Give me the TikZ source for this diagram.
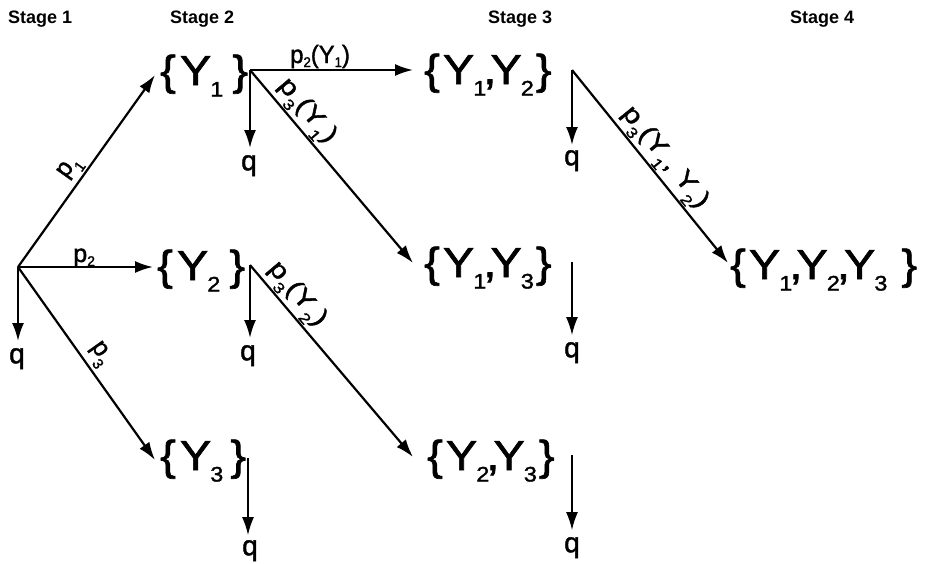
\documentclass[tikz,border=0pt]{standalone}
\usepackage{fontspec}
\setmainfont{Liberation Sans}
\newfontfamily\setfam[FakeStretch=1.12,FakeBold=1.5]{Liberation Sans}
\newfontfamily\lblfam[FakeBold=1.5]{Liberation Sans}
\usetikzlibrary{arrows.meta}
\newcommand\setf{\setfam\fontsize{42pt}{42pt}\selectfont}
\newcommand\ssub[1]{\hspace{-1pt}\raisebox{-11.5pt}{\fontsize{21pt}{21pt}\selectfont #1}}
\newcommand\scm{\hspace{-3pt},\hspace{-6pt}}
\newcommand\lsub[1]{\raisebox{-4pt}{\fontsize{14pt}{14pt}\selectfont #1}}
\newcommand\dsub[1]{\raisebox{-9pt}{\fontsize{15pt}{15pt}\selectfont #1}}
\begin{document}
\begin{tikzpicture}[x=1pt,y=-1pt,
  setnode/.style={anchor=base west, inner sep=0pt, font=\setf},
  qnode/.style={anchor=north, inner sep=0pt, font=\lblfam\fontsize{28pt}{28pt}\selectfont},
  stagenode/.style={anchor=base west, inner sep=0pt, font=\bfseries\fontsize{18pt}{18pt}\selectfont},
  lbl/.style={anchor=base, inner sep=0pt, sloped, font=\lblfam\fontsize{25pt}{25pt}\selectfont},
  arr/.style={line width=2.2pt, -{Latex[length=18pt,width=12pt]}},
  thinarr/.style={line width=1.4pt, -{Latex[length=18pt,width=12pt]}},
]
\useasboundingbox (0,0) rectangle (929,563);

\node[stagenode] (s1) at (8,23) {Stage 1};
\node[stagenode] (s2) at (170,23) {Stage 2};
\node[stagenode] (s3) at (488,23) {Stage 3};
\node[stagenode] (s4) at (790,23) {Stage 4};

\node[setnode] (y1) at (160,85) {\{\hspace{4pt}Y\ssub{1}\hspace{9pt}\}};
\node[setnode] (y2) at (157,280) {\{\hspace{4pt}Y\ssub{2}\hspace{9pt}\}};
\node[setnode] (y3) at (160,470) {\{\hspace{4pt}Y\ssub{3}\hspace{7pt}\}};
\node[setnode] (y12) at (424,84) {\{\hspace{3pt}Y\ssub{1}\scm Y\ssub{2}\hspace{2pt}\}};
\node[setnode] (y13) at (424,277) {\{\hspace{3pt}Y\ssub{1}\scm Y\ssub{3}\hspace{2pt}\}};
\node[setnode] (y23) at (427,470) {\{\hspace{3pt}Y\ssub{2}\scm Y\ssub{3}\hspace{2pt}\}};
\node[setnode] (y123) at (730,279) {\{\hspace{3pt}Y\ssub{1}\scm Y\ssub{2}\scm Y\ssub{3}\hspace{14pt}\}};

\coordinate (r) at (18,267);
\coordinate (b1) at (250,70);
\coordinate (b2) at (250,265);
\coordinate (b3) at (248,458);
\coordinate (b12) at (572,70);
\coordinate (b13) at (572,262);
\coordinate (b23) at (572,455);

\node[qnode] (qr) at (17,348) {q};
\node[qnode] (q1) at (249,155) {q};
\node[qnode] (q2) at (248,345) {q};
\node[qnode] (q3) at (250,540) {q};
\node[qnode] (q12) at (572,150) {q};
\node[qnode] (q13) at (572,342) {q};
\node[qnode] (q23) at (572,537) {q};

% stage 1 branches
\draw[arr] (r) -- node[lbl,pos=0.47]{\raisebox{12pt}{p\dsub{1}}} ([shift={(-5,-10)}]y1.base west);
\draw[arr] (r) -- node[lbl,pos=0.49]{\raisebox{5pt}{p\lsub{2}}} ([shift={(-4,-13)}]y2.base west);
\draw[arr] (r) -- node[lbl,pos=0.5]{\raisebox{13pt}{p\dsub{3}}} ([shift={(-5,-10)}]y3.base west);
\draw[arr, shorten >=7pt] (r) -- (r |- qr.north);

% from {Y1}
\draw[arr] (b1) -- node[lbl,pos=0.43]{\raisebox{7pt}{\scalebox{0.95}[1]{p\lsub{2}(Y\lsub{1})}}} ([shift={(-11,-14)}]y12.base west);
\draw[arr] (b1) -- node[lbl,pos=0.27]{\raisebox{11pt}{\scalebox{1.2}[1]{p\dsub{3}(Y\dsub{1})}}} ([shift={(-11,-14)}]y13.base west);
\draw[arr, shorten >=7pt] (b1) -- (b1 |- q1.north);

% from {Y2}
\draw[arr] (b2) -- node[lbl,pos=0.21]{\raisebox{11pt}{\scalebox{1.2}[1]{p\dsub{3}(Y\dsub{2})}}} ([shift={(-14,-13)}]y23.base west);
\draw[arr, shorten >=7pt] (b2) -- (b2 |- q2.north);

% from {Y3}
\draw[thinarr, shorten >=5pt] (b3) -- (b3 |- q3.north);

% from {Y1,Y2}
\draw[arr] (b12) -- node[lbl,pos=0.51]{\raisebox{11pt}{\scalebox{1.2}[1]{p\dsub{3}(Y\dsub{1}, Y\dsub{2})}}} ([shift={(-2,-16)}]y123.base west);
\draw[arr, shorten >=5pt] (b12) -- (b12 |- q12.north);

% from {Y1,Y3} and {Y2,Y3}
\draw[thinarr, shorten >=7pt] (b13) -- (b13 |- q13.north);
\draw[thinarr, shorten >=7pt] (b23) -- (b23 |- q23.north);
\end{tikzpicture}
\end{document}
